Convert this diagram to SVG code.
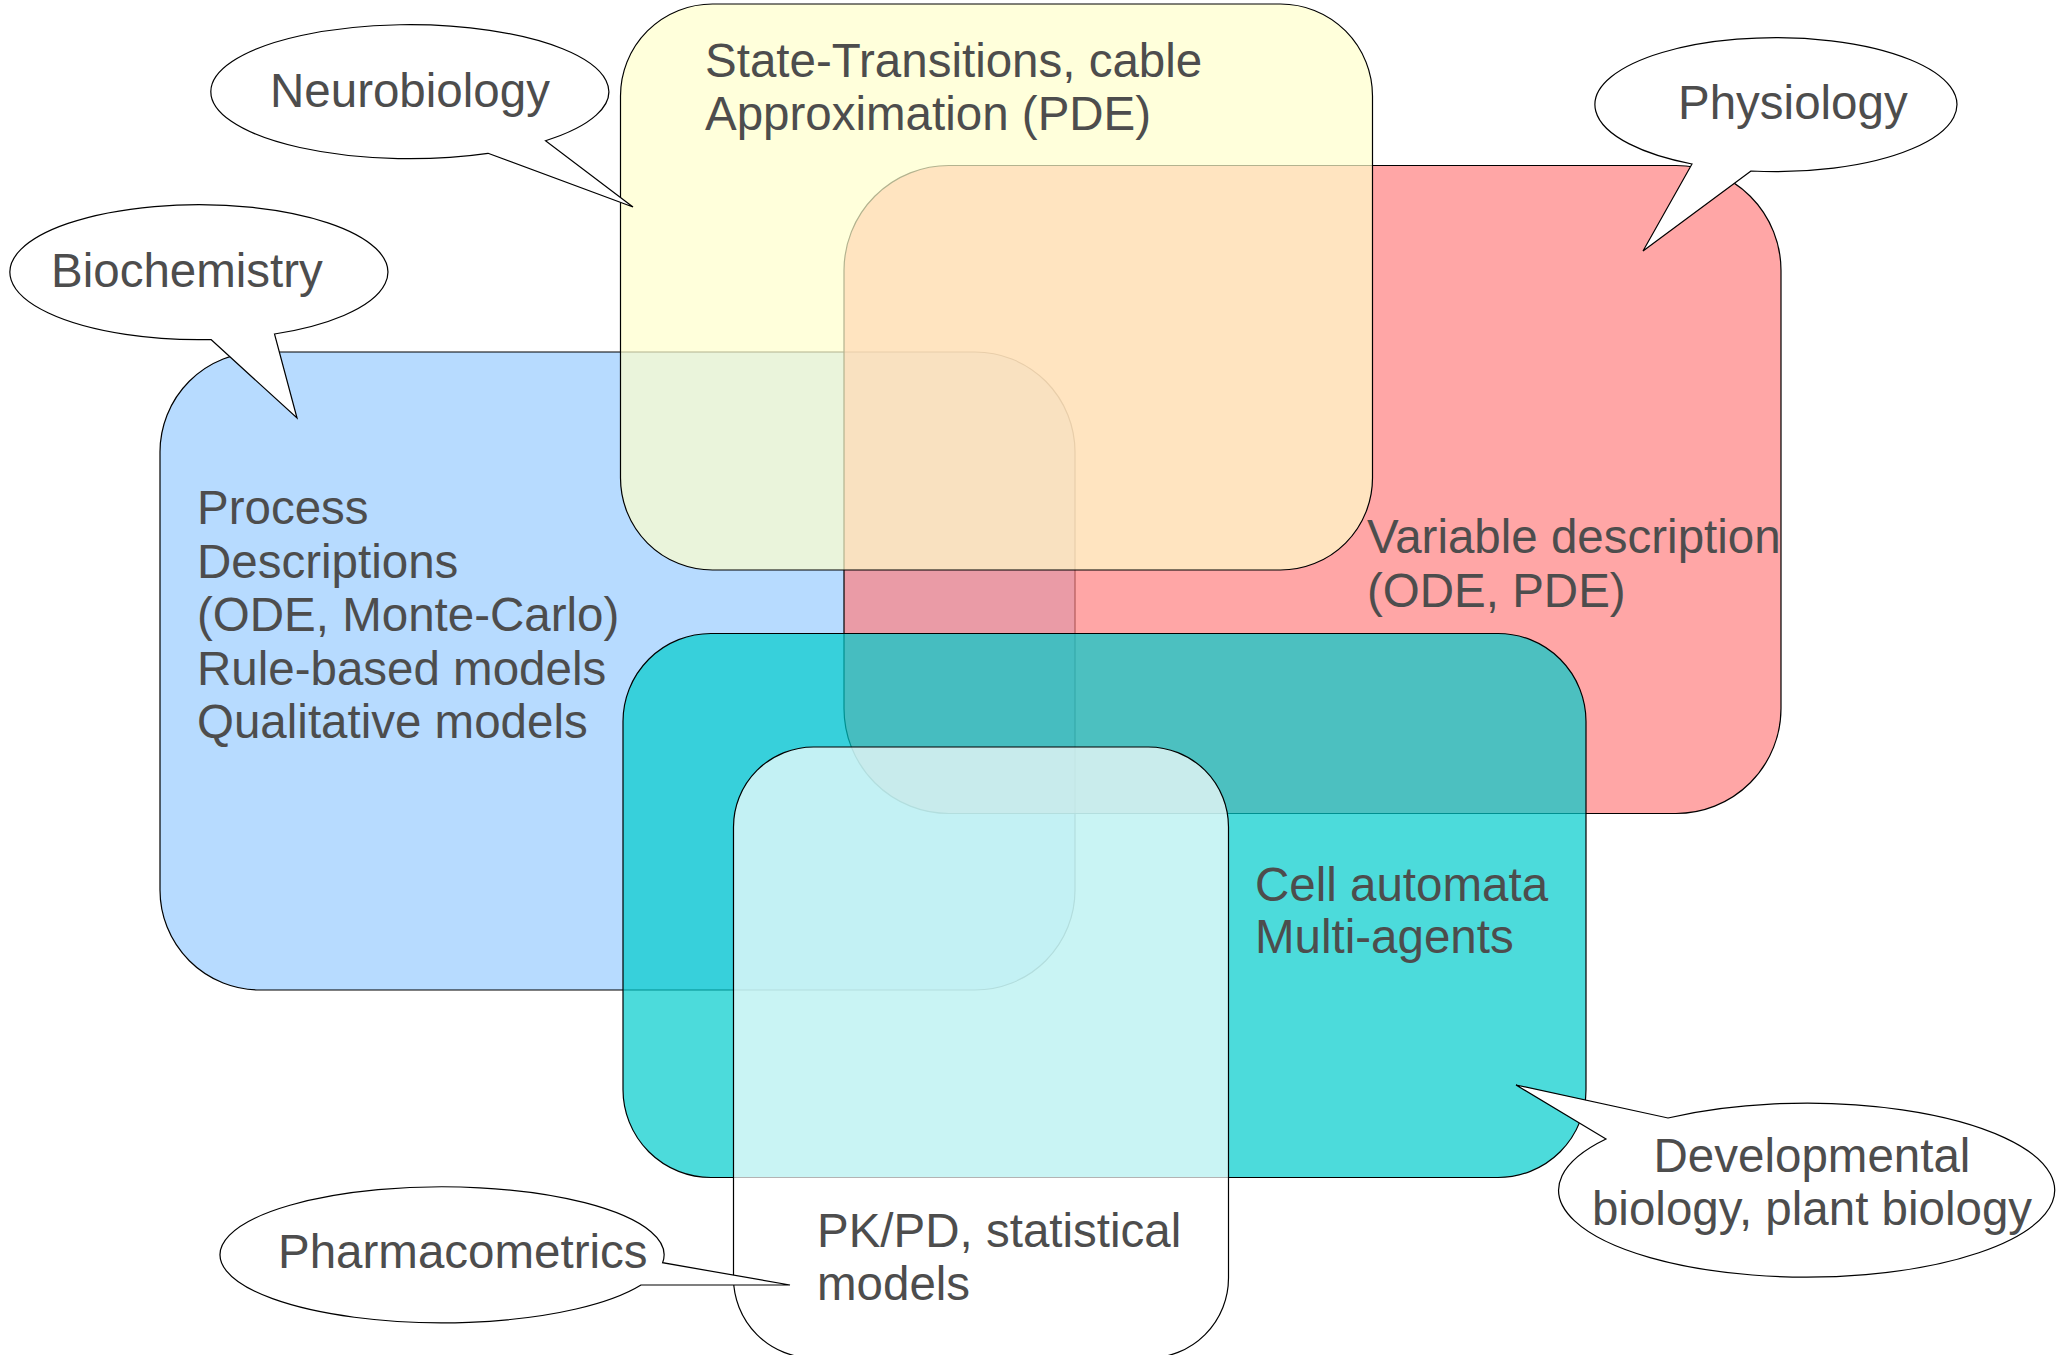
<svg xmlns="http://www.w3.org/2000/svg" width="2056" height="1355" viewBox="0 0 2056 1355">
<style>
.area{stroke:#000;stroke-width:1.2;fill-opacity:0.7}
.bal{fill:#fff;stroke:#000;stroke-width:1.2;stroke-linejoin:miter}
.t{font-family:"Liberation Sans",Arial,sans-serif;font-size:47.5px;fill:#4d4d4d}
.m{text-anchor:middle}
</style>
<rect width="2056" height="1355" fill="#fff"/>
<g id="biochem-area">
<rect class="area" x="160" y="352" width="915" height="638" rx="100" ry="100" fill="#99ccff"/>
<text class="t" x="197" y="524">Process</text>
<text class="t" x="197" y="577.5">Descriptions</text>
<text class="t" x="197" y="631">(ODE, Monte-Carlo)</text>
<text class="t" x="197" y="684.5">Rule-based models</text>
<text class="t" x="197" y="738">Qualitative models</text>
</g>
<g id="physio-area">
<rect class="area" x="844" y="165.5" width="937" height="648" rx="105" ry="105" fill="#ff8080"/>
<text class="t" x="1367" y="553">Variable description</text>
<text class="t" x="1367" y="607">(ODE, PDE)</text>
</g>
<g id="neuro-area">
<rect class="area" x="620.5" y="4" width="752" height="566" rx="92" ry="92" fill="#ffffcc"/>
<text class="t" x="705" y="77">State-Transitions, cable</text>
<text class="t" x="705" y="130">Approximation (PDE)</text>
</g>
<g id="devel-area">
<rect class="area" x="623" y="633.5" width="963" height="544" rx="88" ry="88" fill="#00cccc"/>
<text class="t" x="1255" y="901">Cell automata</text>
<text class="t" x="1255" y="953">Multi-agents</text>
</g>
<g id="pharma-area">
<rect class="area" x="733.5" y="747" width="495" height="611" rx="80" ry="80" fill="#ffffff"/>
<text class="t" x="817" y="1247">PK/PD, statistical</text>
<text class="t" x="817" y="1300">models</text>
</g>
<g id="neurobiology">
<path class="bal" d="M488 153.3 L633 207 L545.5 140.7 A199 67 0 1 0 488 153.3 Z"/>
<text class="t" x="270" y="107">Neurobiology</text>
</g>
<g id="biochemistry">
<path class="bal" d="M211 339.5 L297 418 L274.5 334 A189 67.5 0 1 0 211 339.5 Z"/>
<text class="t" x="51" y="287">Biochemistry</text>
</g>
<g id="physiology">
<path class="bal" d="M1751 171 L1643 251 L1692 164 A181 67 0 1 1 1751 171 Z"/>
<text class="t" x="1678" y="119">Physiology</text>
</g>
<g id="developmental">
<path class="bal" d="M1606 1139 L1516 1085 L1668 1118 A248 87 0 1 1 1606 1139 Z"/>
<text class="t m" x="1812" y="1172">Developmental</text>
<text class="t m" x="1812" y="1225">biology, plant biology</text>
</g>
<g id="pharmacometrics">
<path class="bal" d="M641 1285 L790 1285 L662.6 1262.7 A222 68 0 1 0 641 1285 Z"/>
<text class="t" x="278" y="1268">Pharmacometrics</text>
</g>
<g id="connectors"/>
</svg>
